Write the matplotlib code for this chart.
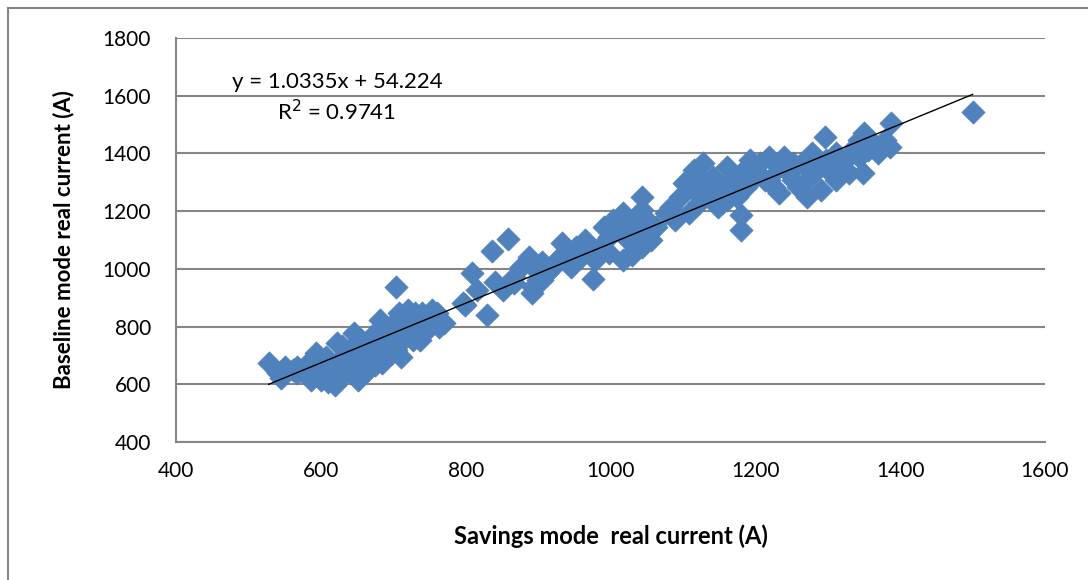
import numpy as np
import matplotlib.pyplot as plt
from matplotlib.lines import Line2D

# savings mode current (x) and baseline mode current (y)
savings = [
    528, 545, 541, 551, 561, 567, 567, 580, 580, 587, 590, 594, 600, 600, 607, 610, 613, 616,
    620, 623, 626, 629, 633, 636, 639, 642, 646, 652, 652, 655, 659, 662, 665, 668, 672, 675,
    675, 678, 682, 685, 688, 691, 695, 698, 701, 704, 704, 708, 711, 714, 717, 721, 724, 727,
    730, 734, 737, 740, 743, 750, 753, 760, 763, 770,
    796, 799, 809, 815, 829, 836, 841, 851, 858, 867, 867, 877, 887, 892, 893, 893, 900, 906,
    906, 913, 920, 926, 933, 939, 946, 952, 959, 965, 972, 976, 978, 985, 991, 998, 998, 1004,
    1011, 1017, 1017, 1024, 1029, 1030, 1030, 1037, 1043, 1043, 1043, 1050, 1056, 1063,
    1076, 1083, 1089, 1096, 1102, 1109, 1115, 1115, 1122, 1128, 1128, 1135, 1141, 1148, 1154,
    1154, 1161, 1161, 1167, 1174, 1180, 1180, 1180, 1187, 1193, 1193, 1200, 1206, 1213, 1219,
    1219, 1226, 1233, 1233, 1239, 1246, 1252, 1252, 1259, 1265, 1272, 1272, 1278, 1285, 1291,
    1296, 1298, 1304, 1311, 1311, 1317, 1324, 1330, 1337, 1343, 1343, 1349, 1350, 1356, 1363,
    1369, 1379, 1386, 1388, 1500,
]
baseline = [
    673, 621, 638, 661, 650, 661, 638, 638, 667, 615, 650, 707, 673, 615, 696, 609, 650, 638,
    598, 742, 684, 731, 638, 673, 719, 650, 777, 673, 615, 754, 731, 696, 650, 754, 707, 777,
    667, 731, 823, 673, 777, 742, 800, 707, 777, 936, 719, 846, 696, 823, 765, 858, 800, 754,
    846, 800, 754, 846, 777, 823, 858, 846, 800, 811,
    881, 875, 987, 927, 840, 1063, 956, 927, 1102, 973, 950, 1008, 1042, 915, 1008, 938, 962, 1025,
    962, 985, 1008, 1031, 1089, 1054, 1008, 1077, 1042, 1100, 1065, 964, 1031, 1077, 1146, 1112,
    1054, 1169, 1135, 1192, 1031, 1100, 1048, 1158, 1054, 1123, 1204, 1077, 1250, 1169, 1100, 1146,
    1192, 1216, 1169, 1250, 1296, 1192, 1273, 1343, 1227, 1308, 1366, 1262, 1320, 1216, 1285,
    1227, 1354, 1239, 1308, 1250, 1331, 1187, 1135, 1285, 1377, 1308, 1320, 1366, 1308, 1389,
    1308, 1285, 1354, 1262, 1389, 1331, 1366, 1308, 1285, 1366, 1250, 1308, 1400, 1343, 1273,
    1458, 1377, 1331, 1400, 1308, 1354, 1377, 1331, 1423, 1389, 1446, 1331, 1470, 1412, 1435,
    1400, 1446, 1423, 1507, 1545,
]

# linear trendline shown on the chart
slope = 1.0335
intercept = 54.224

x_ticks = [400, 600, 800, 1000, 1200, 1400, 1600]
y_ticks = [400, 600, 800, 1000, 1200, 1400, 1600, 1800]

plt.rcParams['font.family'] = ['Lato', 'DejaVu Sans']

fig = plt.figure(figsize=(10.88, 5.8), dpi=100)
ax = fig.add_axes([176 / 1088, 1 - 442 / 580, 869 / 1088, 404 / 580])

ax.scatter(savings, baseline, marker='D', s=140, color='#4F81BD',
           edgecolors='#4F81BD', linewidths=0.5, zorder=3)

xs = np.array([min(savings), max(savings)])
ax.plot(xs, slope * xs + intercept, color='black', linewidth=1, zorder=4)

ax.set_xlim(400, 1600)
ax.set_ylim(400, 1800)
ax.set_xticks(x_ticks)
ax.set_yticks(y_ticks)
ax.tick_params(length=0, labelsize=15, colors='black')
ax.tick_params(axis='x', pad=14)
ax.tick_params(axis='y', pad=18)
ax.grid(axis='y', color='#868686', linewidth=1.5, zorder=0)
ax.set_axisbelow(True)
for side in ['top', 'right']:
    ax.spines[side].set_visible(False)
for side in ['left', 'bottom']:
    ax.spines[side].set_color('#868686')
    ax.spines[side].set_linewidth(1.5)

ax.set_xlabel('Savings mode  real current (A)', fontsize=17, fontweight='bold', labelpad=31)
ax.set_ylabel('Baseline mode real current (A)', fontsize=16, fontweight='bold', labelpad=20)

ax.text(337 / 1088, 1 - 82 / 580, 'y = 1.0335x + 54.224', transform=fig.transFigure,
        ha='center', va='center', fontsize=16)
ax.text(337 / 1088, 1 - 112 / 580, 'R$^2$ = 0.9741', transform=fig.transFigure,
        ha='center', va='center', fontsize=16)

# chart area border (cut off at right/bottom)
fig.add_artist(Line2D([8 / 1088, 8 / 1088], [0, 1 - 8 / 580], color='#868686', linewidth=1.5))
fig.add_artist(Line2D([8 / 1088, 1], [1 - 8 / 580, 1 - 8 / 580], color='#868686', linewidth=1.5))

fig.savefig('out.png', dpi=100)
